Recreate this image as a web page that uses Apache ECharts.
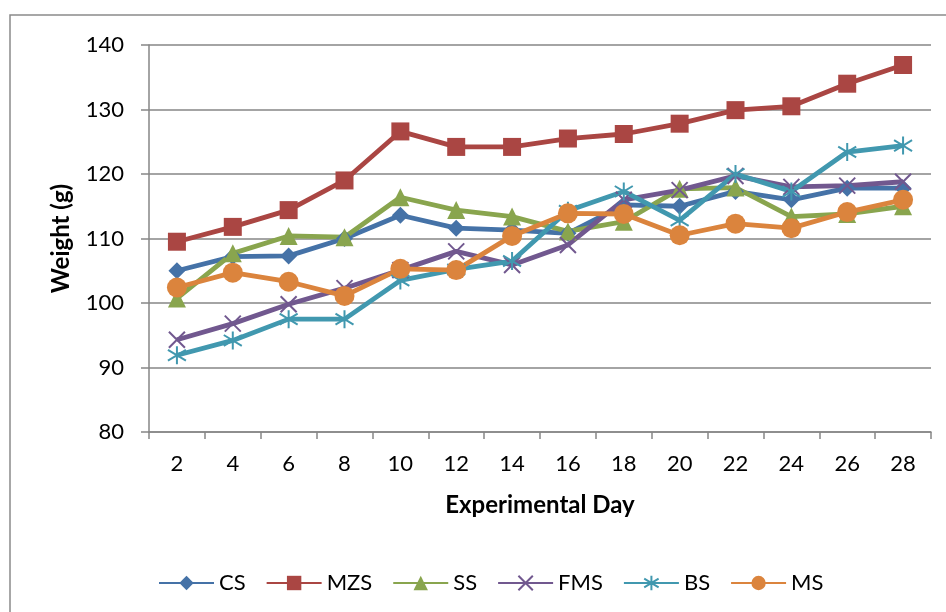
<!DOCTYPE html>
<html>
<head>
<meta charset="utf-8">
<script src="https://cdn.jsdelivr.net/npm/echarts@6/dist/echarts.min.js"></script>
<style>
  html, body { margin: 0; padding: 0; background: #fff; }
  #chart { width: 946px; height: 612px; }
</style>
</head>
<body>
<div id="chart"></div>
<script>
  // experimental day (x axis categories)
  const days = ['2', '4', '6', '8', '10', '12', '14', '16', '18', '20', '22', '24', '26', '28']

  // weight (g) per group
  const csData = [105.0, 107.2, 107.3, 110.0, 113.6, 111.6, 111.3, 110.8, 115.2, 115.0, 117.3, 116.0, 117.8, 117.8]
  const mzsData = [109.5, 111.8, 114.4, 119.0, 126.6, 124.2, 124.2, 125.5, 126.2, 127.8, 129.9, 130.5, 134.0, 136.9]
  const ssData = [100.7, 107.7, 110.4, 110.2, 116.4, 114.4, 113.4, 111.1, 112.6, 117.7, 117.9, 113.4, 113.8, 115.0]
  const fmsData = [94.3, 96.8, 99.8, 102.3, 105.1, 108.0, 105.9, 109.0, 116.0, 117.5, 119.7, 118.0, 118.2, 118.8]
  const bsData = [91.9, 94.2, 97.5, 97.5, 103.5, 105.2, 106.5, 114.3, 117.3, 112.8, 120.0, 117.3, 123.4, 124.4]
  const msData = [102.4, 104.7, 103.3, 101.1, 105.3, 105.1, 110.4, 113.9, 113.8, 110.5, 112.3, 111.6, 114.1, 116.0]

  const yTicks = { min: 80, max: 140, step: 10 }

  const gridColor = '#868686'
  const font = 'Lato, "Open Sans", sans-serif'

  // open paths are only stroked, so they look like Excel's x / star markers
  const xMark = 'path://M0,0L10,10M10,0L0,10'
  const starMark = 'path://M5,0L5,10M0,2L10,8M10,2L0,8'

  const makeSeries = (name, data, color, symbol, size, stroked) => ({
    name,
    type: 'line',
    data,
    symbol,
    symbolSize: size,
    showAllSymbol: true,
    lineStyle: { width: 4.8, color },
    itemStyle: stroked
      ? { color: color, borderColor: color, borderWidth: 2 }
      : { color: color },
    emphasis: { disabled: true }
  })

  const chart = echarts.init(document.getElementById('chart'))
  chart.setOption({
    animation: false,
    textStyle: { fontFamily: font },
    graphic: [
      {
        type: 'rect',
        shape: { x: 10, y: 15, width: 1000, height: 700 },
        style: { fill: 'none', stroke: '#8a8a8a', lineWidth: 1.5 },
        silent: true
      }
    ],
    grid: { left: 149, right: 15, top: 45, bottom: 180 },
    legend: {
      left: 153,
      top: 567,
      itemWidth: 55,
      itemHeight: 18,
      itemGap: 20,
      textStyle: { fontSize: 22, color: '#000', fontFamily: font },
      data: ['CS', 'MZS', 'SS', 'FMS', 'BS', 'MS']
    },
    xAxis: {
      type: 'category',
      data: days,
      boundaryGap: true,
      name: 'Experimental Day',
      nameLocation: 'middle',
      nameGap: 61,
      nameMoveOverlap: false,
      nameTextStyle: { fontSize: 24, fontWeight: 'bold', color: '#000', fontFamily: font },
      axisLine: { lineStyle: { color: gridColor, width: 1.5 } },
      axisTick: { show: true, length: 7, interval: 0, lineStyle: { color: gridColor, width: 1.5 } },
      axisLabel: { fontSize: 22, color: '#000', margin: 21, interval: 0 }
    },
    yAxis: {
      type: 'value',
      min: yTicks.min,
      max: yTicks.max,
      interval: yTicks.step,
      name: 'Weight (g)',
      nameLocation: 'middle',
      nameGap: 76,
      nameMoveOverlap: false,
      nameRotate: 90,
      nameTextStyle: { fontSize: 24, fontWeight: 'bold', color: '#000', fontFamily: font },
      axisLine: { show: true, lineStyle: { color: gridColor, width: 1.5 } },
      axisTick: { show: true, length: 8, lineStyle: { color: gridColor, width: 1.5 } },
      axisLabel: { fontSize: 22, color: '#000', margin: 25 },
      splitLine: { lineStyle: { color: gridColor, width: 1.5 } }
    },
    series: [
      makeSeries('CS', csData, '#4572A7', 'diamond', 17, false),
      makeSeries('MZS', mzsData, '#AA4643', 'rect', 18, false),
      makeSeries('SS', ssData, '#89A54E', 'triangle', 18, false),
      makeSeries('FMS', fmsData, '#71588F', xMark, 16, true),
      makeSeries('BS', bsData, '#4198AF', starMark, 18, true),
      makeSeries('MS', msData, '#DB843D', 'circle', 20, false)
    ]
  })
</script>
</body>
</html>
